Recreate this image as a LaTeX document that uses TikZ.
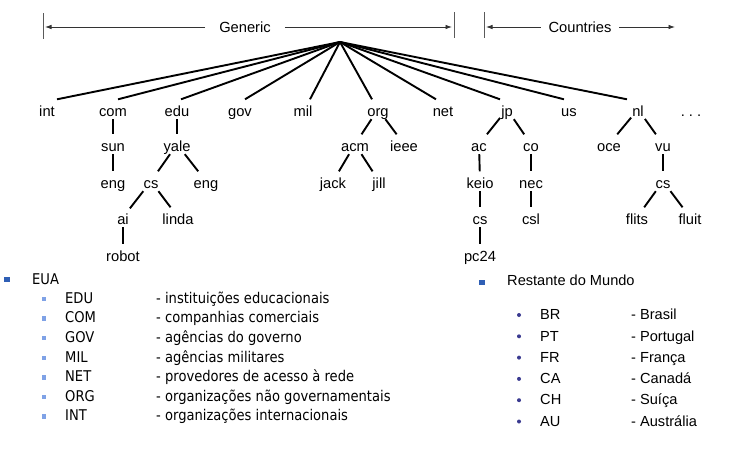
\documentclass[tikz,border=0pt]{standalone}
\usepackage{fontspec}
\setmainfont{Liberation Sans}
\newfontfamily\tah[FakeStretch=0.885]{DejaVu Sans}
\usetikzlibrary{arrows.meta,calc}
\definecolor{bulletblue}{HTML}{2F5FB5}
\definecolor{subblue}{HTML}{7FA2E6}
\definecolor{dotblue}{HTML}{3A3A90}
\definecolor{rulegray}{HTML}{5A5A5A}
\begin{document}
\begin{tikzpicture}[x=1pt,y=-1pt,
  lbl/.style={font=\fontsize{14.7}{17}\selectfont, inner xsep=1pt, inner ysep=1pt, text height=15.8pt, text depth=1.7pt},
  edge/.style={line width=1.9pt, draw=black},
  dimarrow/.style={line width=0.8pt, draw=black!80, -{Latex[length=6.5pt,width=4.5pt]}, shorten >=2pt},
  dimbar/.style={line width=1pt, draw=rulegray},
  dimlbl/.style={font=\fontsize{14.7}{17}\selectfont, inner ysep=2pt},
  listtxt/.style={anchor=west, inner sep=0pt, text height=10.5pt, text depth=3pt},
  ltah/.style={listtxt, font=\tah\fontsize{14.8}{17}\selectfont},
  larial/.style={listtxt, font=\fontsize{14.6}{17}\selectfont},
  bigbul/.style={fill=bulletblue, minimum size=5.5pt, inner sep=0pt},
  subbul/.style={fill=subblue, minimum size=4.5pt, inner sep=0pt},
  dotbul/.style={circle, fill=dotblue, minimum size=4pt, inner sep=0pt}
]
\useasboundingbox[fill=white] (0,0) rectangle (754,453);

% ---- dimension arrows ----
\draw[dimbar] (43,13) -- (43,39);
\draw[dimbar] (454,12) -- (454,38);
\draw[dimbar] (484,12) -- (484,38);
\coordinate (barL) at (43,27);
\coordinate (barM) at (454,27);
\coordinate (barN) at (484,27);
\coordinate (cEnd) at (677,27);
\node[dimlbl, inner xsep=14pt] (gen) at (245,27.5) {Generic};
\node[dimlbl, inner xsep=7.5pt] (ctr) at (580,27.5) {Countries};
\draw[dimarrow] (gen.west |- barL) -- (barL);
\draw[dimarrow] (gen.east |- barM) -- (barM);
\draw[dimarrow] (ctr.west |- barN) -- (barN);
\draw[dimarrow] (ctr.east |- cEnd) -- (cEnd);

% ---- tree ----
\coordinate (root) at (340,42);
\def\La{109.25}\def\Lb{144.25}\def\Lc{181.25}\def\Ld{217.25}\def\Le{254.25}
\node[lbl] (int) at (47,\La) {int};
\node[lbl] (com) at (113,\La) {com};
\node[lbl] (edu) at (177,\La) {edu};
\node[lbl] (gov) at (240,\La) {gov};
\node[lbl] (mil) at (303,\La) {mil};
\node[lbl] (org) at (378,\La) {org};
\node[lbl] (net) at (443,\La) {net};
\node[lbl] (jp)  at (507,\La) {jp};
\node[lbl] (us)  at (569,\La) {us};
\node[lbl] (nl)  at (638,\La) {nl};
\node[lbl] (more) at (691,\La) {.\ .\ .};

\node[lbl] (sun)  at (113,\Lb) {sun};
\node[lbl] (yale) at (177,\Lb) {yale};
\node[lbl] (acm)  at (355,\Lb) {acm};
\node[lbl] (ieee) at (404,\Lb) {ieee};
\node[lbl] (ac)   at (479,\Lb) {ac};
\node[lbl] (co)   at (531,\Lb) {co};
\node[lbl] (oce)  at (609,\Lb) {oce};
\node[lbl] (vu)   at (663,\Lb) {vu};

\node[lbl] (engA) at (113,\Lc) {eng};
\node[lbl] (csA)  at (151,\Lc) {cs};
\node[lbl] (engB) at (206,\Lc) {eng};
\node[lbl] (jack) at (333,\Lc) {jack};
\node[lbl] (jill) at (379,\Lc) {jill};
\node[lbl] (keio) at (480,\Lc) {keio};
\node[lbl] (nec)  at (531,\Lc) {nec};
\node[lbl] (csC)  at (663,\Lc) {cs};

\node[lbl] (ai)    at (123,\Ld) {ai};
\node[lbl] (linda) at (178,\Ld) {linda};
\node[lbl] (csB)   at (480,\Ld) {cs};
\node[lbl] (csl)   at (531,\Ld) {csl};
\node[lbl] (flits) at (637,\Ld) {flits};
\node[lbl] (fluit) at (690,\Ld) {fluit};

\node[lbl] (robot) at (123,\Le) {robot};
\node[lbl] (pc)    at (480,\Le) {pc24};

\draw[edge] (root) -- ([xshift=10pt]int.north);
\draw[edge] (root) -- ([xshift=5pt]com.north);
\draw[edge] (root) -- ([xshift=4pt]edu.north);
\draw[edge] (root) -- ([xshift=5pt]gov.north);
\draw[edge] (root) -- ([xshift=7pt]mil.north);
\draw[edge] (root) -- ([xshift=-6pt]org.north);
\draw[edge] (root) -- ([xshift=-7pt]net.north);
\draw[edge] (root) -- ([xshift=-7pt]jp.north);
\draw[edge] (root) -- ([xshift=-5pt]us.north);
\draw[edge] (root) -- ([xshift=-11pt]nl.north);

\draw[edge] (com) -- (sun);
\draw[edge] (sun) -- (engA);
\draw[edge] (edu) -- (yale);
\draw[edge] (yale) -- (csA);
\draw[edge] (yale) -- (engB);
\draw[edge] (csA) -- (ai);
\draw[edge] (csA) -- (linda);
\draw[edge] (ai) -- (robot);
\draw[edge] (org) -- (acm);
\draw[edge] (org) -- (ieee);
\draw[edge] (acm) -- (jack);
\draw[edge] (acm) -- (jill);
\draw[edge] (jp) -- (ac);
\draw[edge] (jp) -- (co);
\draw[edge] (ac) -- (keio);
\draw[edge] (keio) -- (csB);
\draw[edge] (csB) -- (pc);
\draw[edge] (co) -- (nec);
\draw[edge] (nec) -- (csl);
\draw[edge] (nl) -- (oce);
\draw[edge] (nl) -- (vu);
\draw[edge] (vu) -- (csC);
\draw[edge] (csC) -- (flits);
\draw[edge] (csC) -- (fluit);

% ---- left list ----
\node[bigbul] (bEUA) at (7,279.5) {};
\node[ltah] (EUA) at (32,281) {EUA};
\foreach \c/\d [count=\i] in {EDU/instituições educacionais, COM/companhias comerciais, GOV/agências do governo, MIL/agências militares, NET/provedores de acesso à rede, ORG/organizações não governamentais, INT/organizações internacionais} {
  \node[subbul] (sb\i) at (44,{299+19.6*(\i-1)}) {};
  \node[ltah] (ec\i) at (65,{299.5+19.6*(\i-1)}) {\c};
  \node[ltah] (ed\i) at (156,{299.5+19.6*(\i-1)}) {- \d};
}

% ---- right list ----
\node[bigbul] (bRM) at (482,282.5) {};
\node[larial] (RM) at (507,282) {Restante do Mundo};
\foreach \c/\d [count=\i] in {BR/Brasil, PT/Portugal, FR/França, CA/Canadá, CH/Suíça, AU/Austrália} {
  \node[dotbul] (db\i) at (519,{315+21.3*(\i-1)}) {};
  \node[larial] (rc\i) at (540,{316+21.3*(\i-1)}) {\c};
  \node[larial] (rd\i) at (631,{316+21.3*(\i-1)}) {- \d};
}
\end{tikzpicture}
\end{document}
